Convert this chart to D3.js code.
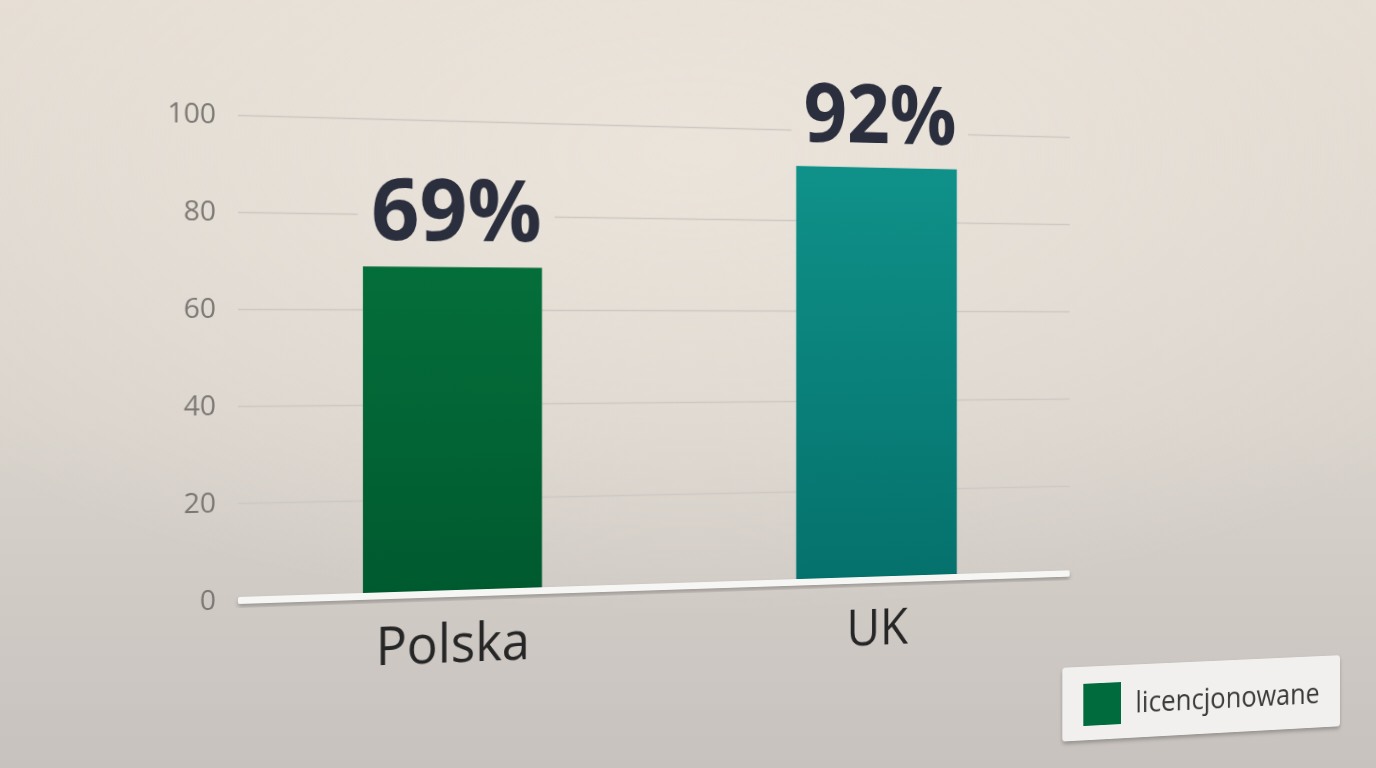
<!DOCTYPE html>
<html>
<head>
<meta charset="utf-8">
<script src="https://cdn.jsdelivr.net/npm/d3@7"></script>
<style>
html, body { margin: 0; width: 1376px; height: 768px; overflow: hidden; }
body {
  background:
    radial-gradient(ellipse 70% 60% at 50% 20%, rgba(236,229,220,0.9) 0%, rgba(236,229,220,0) 100%),
    linear-gradient(180deg, #e4ddd4 0%, #d9d3cc 55%, #c7c2be 100%);
  font-family: "Open Sans", sans-serif;
}
svg { position: absolute; left: 0; top: 0; transform-origin: 0 0; }
</style>
</head>
<body>
<script>
var categories = ["Polska", "UK"];
var values = [69, 92];
var yTicks = [0, 20, 40, 60, 80, 100];
var legendLabel = "licencjonowane";

var barTop = ["#046e3a", "#0f9189"];
var barBottom = ["#005a2f", "#05716c"];

var W = 1600, H = 820;
var left = 238, right = 1163;

var svg = d3.select("body").append("svg")
  .attr("width", W)
  .attr("height", H);

// the chart sits on a plane seen slightly from the left: map it with a homography
var q = 1.2145e-4, r = 0.0404;
var m = [1 + left * q, r, 0, q,
         0, 1, 0, 0,
         0, 0, 1, 0,
         -left * left * q, -left * r, 0, 1 - left * q];
svg.style("transform", "matrix3d(" + m.join(",") + ")");

var x = d3.scaleBand()
  .domain(categories)
  .range([left, right])
  .paddingInner(0.6)
  .paddingOuter(0.28)
  .align(0.48);

var y = d3.scaleLinear()
  .domain([0, 100])
  .range([600, 115]);

var defs = svg.append("defs");

categories.forEach(function(c, i) {
  var g = defs.append("linearGradient")
    .attr("id", "bar" + i)
    .attr("x1", 0).attr("y1", 0).attr("x2", 0).attr("y2", 1);
  g.append("stop").attr("offset", "0%").attr("stop-color", barTop[i]);
  g.append("stop").attr("offset", "100%").attr("stop-color", barBottom[i]);
});

var shadow = defs.append("filter")
  .attr("id", "shadow")
  .attr("x", "-10%").attr("y", "-30%")
  .attr("width", "120%").attr("height", "180%");
shadow.append("feDropShadow")
  .attr("dx", 0).attr("dy", 3)
  .attr("stdDeviation", 2)
  .attr("flood-color", "#000")
  .attr("flood-opacity", 0.25);

// gridlines (masked where the value labels sit)
var grid = svg.append("g")
  .attr("class", "grid")
  .attr("transform", "translate(" + left + ",0)")
  .call(d3.axisLeft(y).tickValues(yTicks).tickSize(-(right - left)).tickFormat(""));
grid.select(".domain").remove();
grid.selectAll("line")
  .attr("stroke", "#cdc8c2")
  .attr("stroke-width", 1.6);

// tick labels
var yAxis = svg.append("g")
  .attr("transform", "translate(" + left + ",0)")
  .call(d3.axisLeft(y).tickValues(yTicks).tickSize(0).tickPadding(22));
yAxis.select(".domain").remove();
yAxis.selectAll("text")
  .attr("fill", "#7b7773")
  .style("font-family", "'Open Sans', sans-serif")
  .style("font-size", "28px");

// bars
svg.selectAll("rect.bar")
  .data(values)
  .enter().append("rect")
  .attr("class", "bar")
  .attr("x", function(d, i) { return x(categories[i]); })
  .attr("width", x.bandwidth())
  .attr("y", function(d) { return y(d); })
  .attr("height", function(d) { return y(0) - y(d); })
  .attr("fill", function(d, i) { return "url(#bar" + i + ")"; });

// baseline
svg.append("rect")
  .attr("x", left)
  .attr("y", y(0) - 3)
  .attr("width", right - left)
  .attr("height", 7)
  .attr("rx", 2)
  .attr("fill", "#f6f6f4")
  .attr("filter", "url(#shadow)");

// value labels
var valueLabels = svg.selectAll("text.value")
  .data(values)
  .enter().append("text")
  .attr("class", "value")
  .attr("x", function(d, i) { return x(categories[i]) + x.bandwidth() / 2 + 4; })
  .attr("y", function(d) { return y(d) - 27; })
  .attr("text-anchor", "middle")
  .attr("fill", "#2a2e3d")
  .style("font-family", "'Open Sans', sans-serif")
  .style("font-weight", 700)
  .style("font-size", "88px")
  .text(function(d) { return d + "%"; });

// category labels
svg.selectAll("text.cat")
  .data(categories)
  .enter().append("text")
  .attr("class", "cat")
  .attr("x", function(d) { return x(d) + x.bandwidth() / 2; })
  .attr("y", y(0) + 71)
  .attr("text-anchor", "middle")
  .attr("fill", "#262626")
  .style("font-family", "'Open Sans', sans-serif")
  .style("font-size", "54px")
  .text(function(d) { return d; });

// knock the gridlines out behind the value labels
var mask = defs.append("mask")
  .attr("id", "gridmask")
  .attr("maskUnits", "userSpaceOnUse")
  .attr("x", 0).attr("y", 0).attr("width", W).attr("height", H);
mask.append("rect").attr("width", W).attr("height", H).attr("fill", "#fff");
valueLabels.each(function() {
  var b = this.getBBox();
  mask.append("rect")
    .attr("x", b.x - 14 - left)
    .attr("y", b.y)
    .attr("width", b.width + 28)
    .attr("height", b.height)
    .attr("fill", "#000");
});
grid.attr("mask", "url(#gridmask)");

// legend
var legend = svg.append("g")
  .attr("transform", "translate(1154,705)");
legend.append("rect")
  .attr("width", 356)
  .attr("height", 82)
  .attr("rx", 4)
  .attr("fill", "#f1f0ee")
  .attr("filter", "url(#shadow)");
legend.append("rect")
  .attr("x", 26)
  .attr("y", 19)
  .attr("width", 47)
  .attr("height", 47)
  .attr("fill", "#006b3c");
legend.append("text")
  .attr("x", 91)
  .attr("y", 54)
  .attr("fill", "#3a3a3a")
  .style("font-family", "'Open Sans', sans-serif")
  .style("font-size", "33px")
  .text(legendLabel);
</script>
</body>
</html>
